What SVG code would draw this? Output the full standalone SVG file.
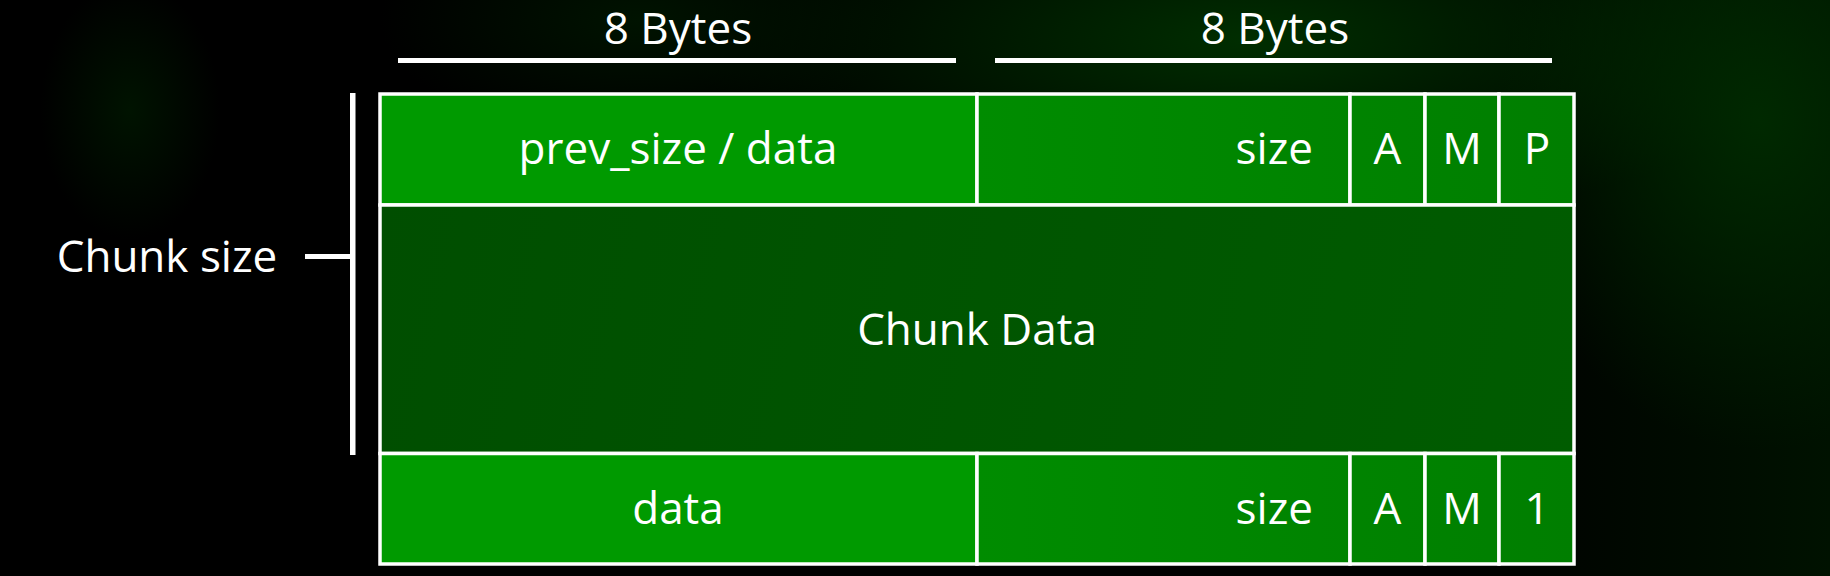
<svg xmlns="http://www.w3.org/2000/svg" width="1830" height="576" viewBox="0 0 1830 576">
  <defs>
    <radialGradient id="glowA" cx="0.5" cy="0.5" r="0.5">
      <stop offset="0" stop-color="#003300" stop-opacity="0.9"/>
      <stop offset="1" stop-color="#003300" stop-opacity="0"/>
    </radialGradient>
    <radialGradient id="glowB" cx="0.5" cy="0.5" r="0.5">
      <stop offset="0" stop-color="#002c00" stop-opacity="0.9"/>
      <stop offset="1" stop-color="#002c00" stop-opacity="0"/>
    </radialGradient>
    <radialGradient id="glowC" cx="0.5" cy="0.5" r="0.5">
      <stop offset="0" stop-color="#001800" stop-opacity="0.8"/>
      <stop offset="1" stop-color="#001800" stop-opacity="0"/>
    </radialGradient>
    <linearGradient id="rightShade" x1="0" y1="0" x2="1" y2="0">
      <stop offset="0" stop-color="#001000" stop-opacity="0"/>
      <stop offset="1" stop-color="#001200" stop-opacity="1"/>
    </linearGradient>
    <linearGradient id="sideCell" gradientUnits="userSpaceOnUse" x1="977" y1="0" x2="1574" y2="0">
      <stop offset="0" stop-color="#008c00"/>
      <stop offset="1" stop-color="#007e00"/>
    </linearGradient>
    <linearGradient id="dataCell" gradientUnits="userSpaceOnUse" x1="380" y1="205" x2="1574" y2="453">
      <stop offset="0" stop-color="#004e00"/>
      <stop offset="1" stop-color="#005c00"/>
    </linearGradient>
    <style>
      .cell { stroke: #ffffff; stroke-width: 3.5; }
      .bright { fill: #009a00; }
      .side { fill: url(#sideCell); }
      .dark { fill: url(#dataCell); }
      .bar { fill: #ffffff; }
      text { font-family: "Open Sans", "Liberation Sans", sans-serif; font-size: 44px; fill: #ffffff; }
      .mid { text-anchor: middle; }
      .end { text-anchor: end; }
    </style>
  </defs>

  <g id="background">
    <rect x="0" y="0" width="1830" height="576" fill="#000000"/>
    <rect x="1450" y="0" width="380" height="576" fill="url(#rightShade)"/>
    <ellipse cx="1250" cy="40" rx="560" ry="190" fill="url(#glowA)"/>
    <ellipse cx="1760" cy="120" rx="260" ry="330" fill="url(#glowB)"/>
    <ellipse cx="640" cy="20" rx="260" ry="120" fill="url(#glowC)"/>
    <ellipse cx="130" cy="110" rx="90" ry="130" fill="url(#glowC)"/>
  </g>

  <g id="byte-labels">
    <g id="bytes-left">
      <rect class="bar" x="398" y="58" width="558" height="5"/>
      <text class="mid" x="678" y="44">8 Bytes</text>
    </g>
    <g id="bytes-right">
      <rect class="bar" x="995" y="58" width="557" height="5"/>
      <text class="mid" x="1275" y="44">8 Bytes</text>
    </g>
  </g>

  <g id="chunk-size">
    <rect class="bar" x="350" y="93" width="5.5" height="362"/>
    <rect class="bar" x="305" y="254" width="47" height="5"/>
    <text class="mid" x="167" y="272">Chunk size</text>
  </g>

  <g id="row-header">
    <g id="prev-size"><rect class="cell bright" x="380" y="94" width="597" height="111"/><text class="mid" x="678" y="164">prev_size / data</text></g>
    <g id="size-top"><rect class="cell side" x="977" y="94" width="373" height="111"/><text class="end" x="1313" y="164">size</text></g>
    <g id="flag-a-top"><rect class="cell side" x="1350" y="94" width="75" height="111"/><text class="mid" x="1387.5" y="164">A</text></g>
    <g id="flag-m-top"><rect class="cell side" x="1425" y="94" width="74" height="111"/><text class="mid" x="1462" y="164">M</text></g>
    <g id="flag-p-top"><rect class="cell side" x="1499" y="94" width="75" height="111"/><text class="mid" x="1537" y="164">P</text></g>
  </g>

  <g id="chunk-data">
    <rect class="cell dark" x="380" y="205" width="1194" height="248.5"/>
    <text class="mid" x="977" y="345">Chunk Data</text>
  </g>

  <g id="row-footer">
    <g id="data-bottom"><rect class="cell bright" x="380" y="453.5" width="597" height="110.5"/><text class="mid" x="678" y="524">data</text></g>
    <g id="size-bottom"><rect class="cell side" x="977" y="453.5" width="373" height="110.5"/><text class="end" x="1313" y="524">size</text></g>
    <g id="flag-a-bottom"><rect class="cell side" x="1350" y="453.5" width="75" height="110.5"/><text class="mid" x="1387.5" y="524">A</text></g>
    <g id="flag-m-bottom"><rect class="cell side" x="1425" y="453.5" width="74" height="110.5"/><text class="mid" x="1462" y="524">M</text></g>
    <g id="flag-1-bottom"><rect class="cell side" x="1499" y="453.5" width="75" height="110.5"/><text class="mid" x="1537" y="524">1</text></g>
  </g>

  <g id="connectors"></g>
</svg>
